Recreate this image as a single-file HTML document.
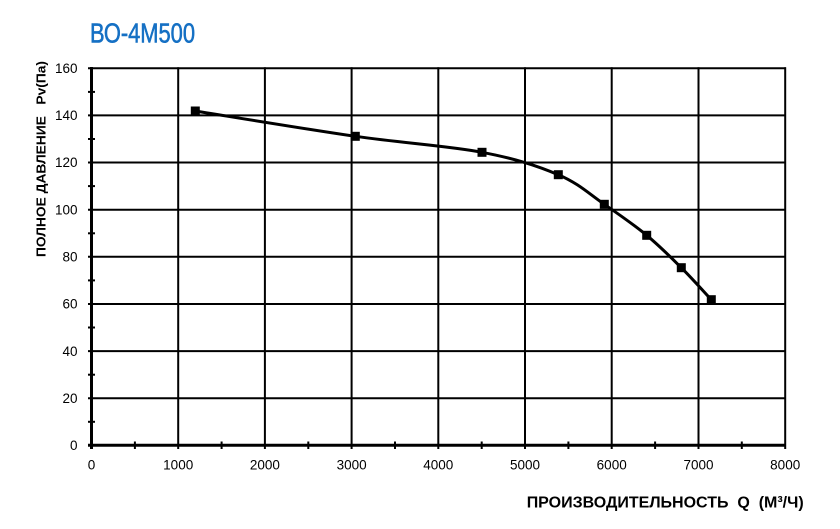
<!DOCTYPE html>
<html><head><meta charset="utf-8"><style>
html,body{margin:0;padding:0;background:#fff;}
svg{display:block;}
</style></head><body>
<svg width="840" height="529" viewBox="0 0 840 529" xmlns="http://www.w3.org/2000/svg">
<rect width="840" height="529" fill="#fff"/>
<text x="90" y="42.3" font-family="Liberation Sans, sans-serif" font-size="28" fill="#1570c4" stroke="#1570c4" stroke-width="0.6" textLength="105" lengthAdjust="spacingAndGlyphs">ВО-4М500</text>
<g stroke="#000" stroke-width="2" fill="none">
<line x1="88" y1="68.3" x2="786" y2="68.3"/>
<line x1="88" y1="115.4" x2="786" y2="115.4"/>
<line x1="88" y1="162.5" x2="786" y2="162.5"/>
<line x1="88" y1="209.7" x2="786" y2="209.7"/>
<line x1="88" y1="256.8" x2="786" y2="256.8"/>
<line x1="88" y1="304" x2="786" y2="304"/>
<line x1="88" y1="351.1" x2="786" y2="351.1"/>
<line x1="88" y1="398.2" x2="786" y2="398.2"/>
<line x1="178.2" y1="67.3" x2="178.2" y2="449"/>
<line x1="264.9" y1="67.3" x2="264.9" y2="449"/>
<line x1="351.6" y1="67.3" x2="351.6" y2="449"/>
<line x1="438.3" y1="67.3" x2="438.3" y2="449"/>
<line x1="525" y1="67.3" x2="525" y2="449"/>
<line x1="611.7" y1="67.3" x2="611.7" y2="449"/>
<line x1="698.5" y1="67.3" x2="698.5" y2="449"/>
<line x1="785.2" y1="67.3" x2="785.2" y2="449"/>
<line x1="88" y1="91.9" x2="95" y2="91.9"/>
<line x1="88" y1="139" x2="95" y2="139"/>
<line x1="88" y1="186.1" x2="95" y2="186.1"/>
<line x1="88" y1="233.3" x2="95" y2="233.3"/>
<line x1="88" y1="280.4" x2="95" y2="280.4"/>
<line x1="88" y1="327.5" x2="95" y2="327.5"/>
<line x1="88" y1="374.7" x2="95" y2="374.7"/>
<line x1="88" y1="421.8" x2="95" y2="421.8"/>
<line x1="134.9" y1="441.5" x2="134.9" y2="449"/>
<line x1="221.6" y1="441.5" x2="221.6" y2="449"/>
<line x1="308.3" y1="441.5" x2="308.3" y2="449"/>
<line x1="395" y1="441.5" x2="395" y2="449"/>
<line x1="481.7" y1="441.5" x2="481.7" y2="449"/>
<line x1="568.4" y1="441.5" x2="568.4" y2="449"/>
<line x1="655.1" y1="441.5" x2="655.1" y2="449"/>
<line x1="741.8" y1="441.5" x2="741.8" y2="449"/>
</g>
<g stroke="#000" stroke-width="3" fill="none">
<line x1="91.5" y1="67" x2="91.5" y2="449"/>
<line x1="88" y1="445.3" x2="786" y2="445.3"/>
</g>
<path d="M195.3,111 C221.97,115.22 307.52,129.42 355.3,136.3 C403.08,143.18 448.17,145.9 482,152.3 C515.83,158.7 537.92,166.03 558.3,174.7 C578.68,183.37 589.57,194.2 604.3,204.3 C619.03,214.4 633.87,224.73 646.7,235.3 C659.53,245.87 670.53,256.97 681.3,267.7 C692.07,278.43 706.3,294.37 711.3,299.7" stroke="#000" stroke-width="3" fill="none"/>
<g fill="#000">
<rect x="190.8" y="106.5" width="9" height="9"/>
<rect x="350.8" y="131.8" width="9" height="9"/>
<rect x="477.5" y="147.8" width="9" height="9"/>
<rect x="553.8" y="170.2" width="9" height="9"/>
<rect x="599.8" y="199.8" width="9" height="9"/>
<rect x="642.2" y="230.8" width="9" height="9"/>
<rect x="676.8" y="263.2" width="9" height="9"/>
<rect x="706.8" y="295.2" width="9" height="9"/>
</g>
<g font-family="Liberation Sans, sans-serif" font-size="13.5" fill="#000" text-anchor="end">
<text x="77.5" y="73">160</text>
<text x="77.5" y="120.1">140</text>
<text x="77.5" y="167.2">120</text>
<text x="77.5" y="214.4">100</text>
<text x="77.5" y="261.5">80</text>
<text x="77.5" y="308.7">60</text>
<text x="77.5" y="355.8">40</text>
<text x="77.5" y="402.9">20</text>
<text x="77.5" y="450">0</text>
</g>
<g font-family="Liberation Sans, sans-serif" font-size="13.5" fill="#000" text-anchor="middle">
<text x="91.5" y="469.5">0</text>
<text x="178.2" y="469.5">1000</text>
<text x="264.9" y="469.5">2000</text>
<text x="351.6" y="469.5">3000</text>
<text x="438.3" y="469.5">4000</text>
<text x="525" y="469.5">5000</text>
<text x="611.7" y="469.5">6000</text>
<text x="698.5" y="469.5">7000</text>
<text x="785.2" y="469.5">8000</text>
</g>
<text x="526.7" y="507.5" font-family="Liberation Sans, sans-serif" font-weight="bold" font-size="16" fill="#000" textLength="277" lengthAdjust="spacingAndGlyphs" xml:space="preserve">ПРОИЗВОДИТЕЛЬНОСТЬ  Q  (М³/Ч)</text>
<text transform="translate(45.5,257) rotate(-90)" font-family="Liberation Sans, sans-serif" font-weight="bold" font-size="12.5" fill="#000" textLength="196" lengthAdjust="spacingAndGlyphs" xml:space="preserve">ПОЛНОЕ ДАВЛЕНИЕ   Pv(Па)</text>
</svg>
</body></html>
